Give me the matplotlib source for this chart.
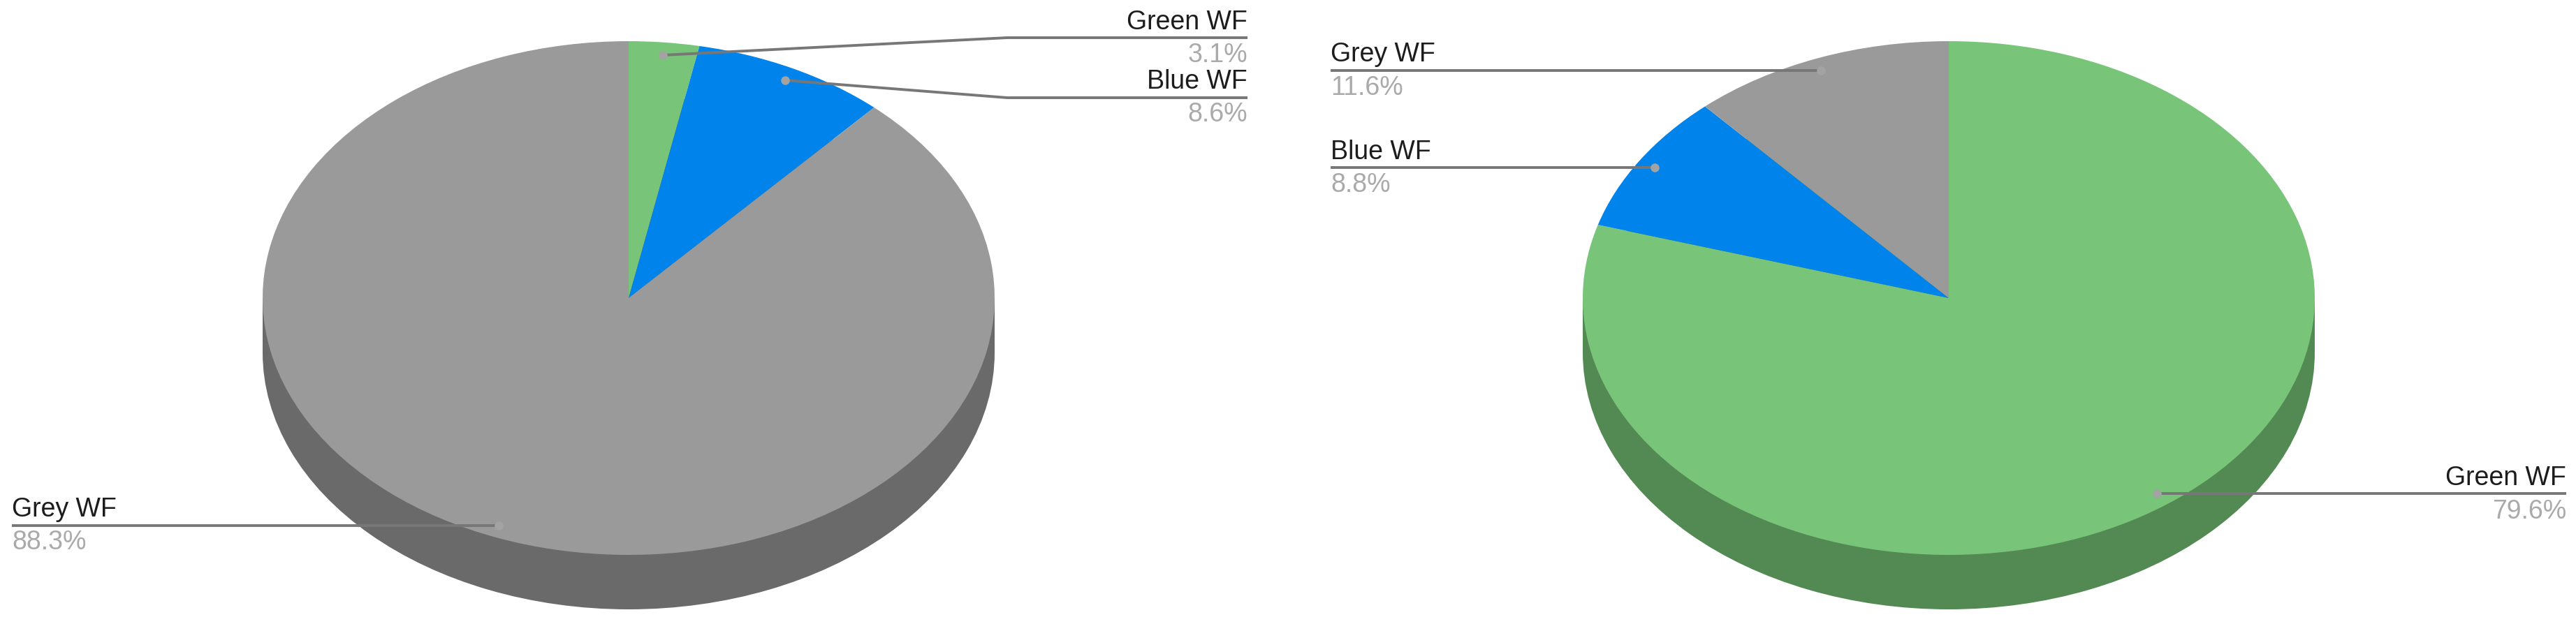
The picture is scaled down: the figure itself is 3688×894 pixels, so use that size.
import matplotlib
matplotlib.use('Agg')
import matplotlib.pyplot as plt
from matplotlib.patches import Rectangle

plt.rcParams['font.family'] = ['Liberation Sans', 'DejaVu Sans']

# values, clockwise from the top
categories = ['Green WF', 'Blue WF', 'Grey WF']
left_values = [3.1, 8.6, 88.3]
right_values = [79.6, 8.8, 11.6]

colors = ['#78c479', '#0084ec', '#9a9a9a']
W, H = 3688, 895

fig = plt.figure(figsize=(W / 100, H / 100), dpi=100, facecolor='white')


def draw_pie(values, cx, side_color):
    # pie squashed into an ellipse, with a darker copy under it for the 3d rim
    cy, rx, ry, depth = 428, 524, 368, 78
    ax = fig.add_axes([0, 0, 1, 1])
    d = depth / ry
    ax.pie([1], colors=[side_color], center=(0, -d), radius=1, startangle=90)
    ax.add_patch(Rectangle((-1, -d), 2, d, color=side_color, lw=0))
    ax.pie(values, colors=colors, startangle=90, counterclock=False,
           wedgeprops={'linewidth': 0})
    ax.set_aspect('auto')
    ax.set_xlim(-cx / rx, (W - cx) / rx)
    ax.set_ylim((cy - H) / ry, cy / ry)
    ax.patch.set_alpha(0)


draw_pie(left_values, 900, '#6a6a6a')
draw_pie(right_values, 2790, '#538a53')

# overlay in image pixels for the callouts
ov = fig.add_axes([0, 0, 1, 1])
ov.set_xlim(0, W)
ov.set_ylim(H, 0)
ov.axis('off')
ov.patch.set_alpha(0)


def callout(name, value, path, name_y, value_y, ha):
    xs = [p[0] for p in path]
    ys = [p[1] for p in path]
    ov.plot(xs, ys, color='#777777', lw=2.8, solid_capstyle='butt', solid_joinstyle='round')
    ov.plot(xs[0], ys[0], 'o', color='#a3a3a3', ms=9, mew=0)
    tx = xs[-1]
    ov.text(tx, name_y, name, ha=ha, va='baseline', fontsize=27, color='#1c1c1c')
    ov.text(tx, value_y, '%.1f%%' % value, ha=ha, va='baseline', fontsize=27, color='#aaaaaa')


callout(categories[0], left_values[0], [(949, 80), (1442, 55), (1786, 55)], 42, 89, 'right')
callout(categories[1], left_values[1], [(1124, 116), (1442, 141), (1786, 141)], 127, 174, 'right')
callout(categories[2], left_values[2], [(714, 754), (17, 754)], 740, 787, 'left')

callout(categories[2], right_values[2], [(2607, 102), (1905, 102)], 88, 136, 'left')
callout(categories[1], right_values[1], [(2369, 241), (1905, 241)], 228, 275, 'left')
callout(categories[0], right_values[0], [(3088, 708), (3674, 708)], 695, 743, 'right')

fig.savefig('out.png', dpi=100)
